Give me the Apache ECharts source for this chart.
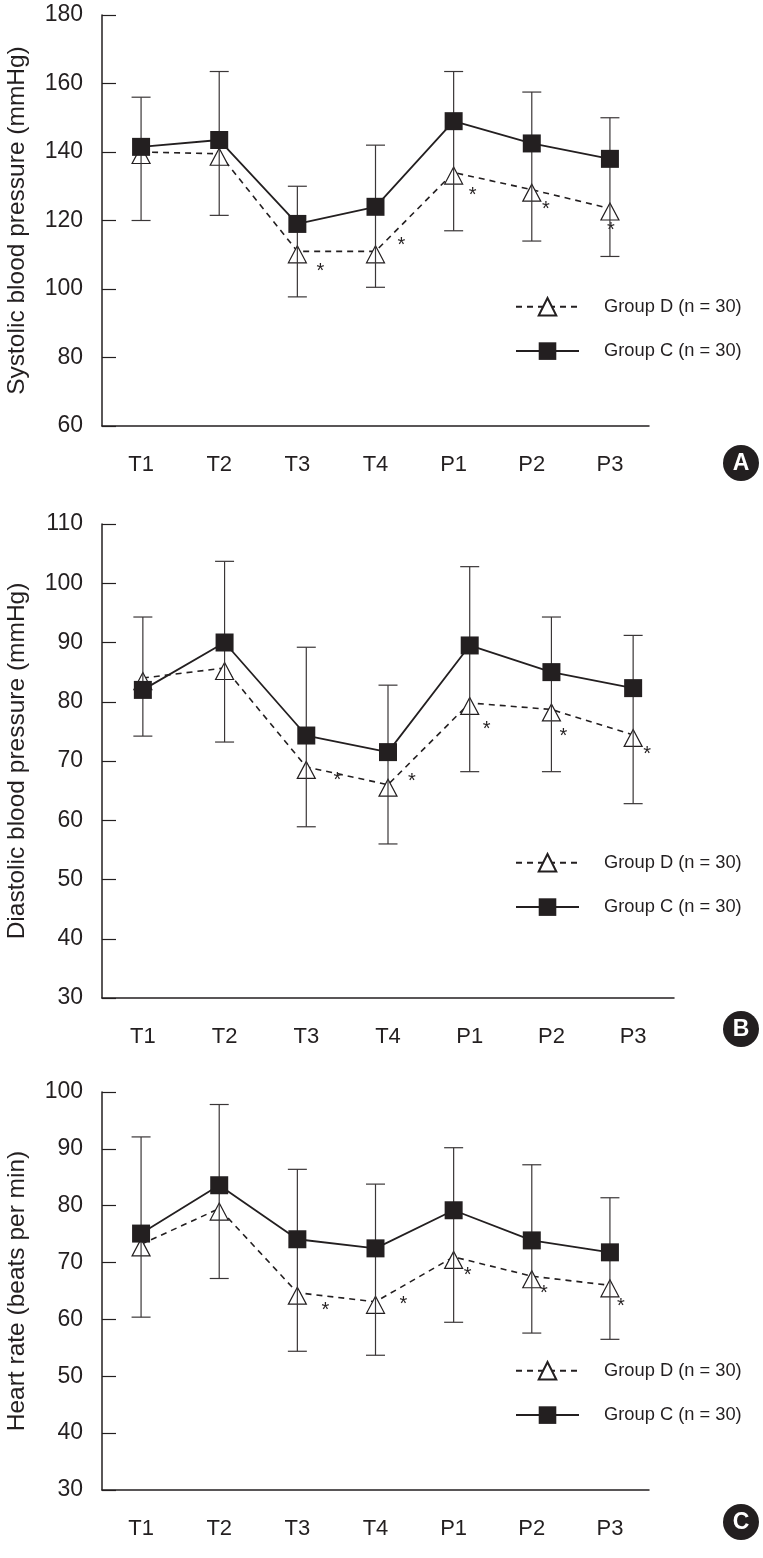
<!DOCTYPE html>
<html>
<head>
<meta charset="utf-8">
<script src="https://cdn.jsdelivr.net/npm/echarts@6/dist/echarts.min.js"></script>
<style>html,body{margin:0;padding:0;background:#fff}#c{width:763px;height:1558px}</style>
</head>
<body>
<div id="c"></div>
<script>
// ---- data ----
const categories = ['T1', 'T2', 'T3', 'T4', 'P1', 'P2', 'P3'];
const nameD = 'Group D (n = 30)';
const nameC = 'Group C (n = 30)';

// Panel A: systolic blood pressure (mmHg)
const sbpC   = [141.5, 143.5, 119, 124, 149, 142.5, 138];
const sbpCSD = [14.5, 20, 11, 18, 14.5, 15, 12];
const sbpD   = [140, 139.5, 111, 111, 134, 129, 123.5];
const sbpDSD = [20, 18, 13.3, 10.5, 17, 15, 14];

// Panel B: diastolic blood pressure (mmHg)
const dbpC   = [82, 90, 74.3, 71.5, 89.5, 85, 82.3];
const dbpCSD = [12.3, 13.7, 14.9, 11.3, 13.3, 9.3, 8.9];
const dbpD   = [84, 85.7, 69, 66, 79.8, 78.7, 74.4];
const dbpDSD = [9.8, 12.5, 10.1, 10, 11.6, 10.5, 11.6];

// Panel C: heart rate (beats per min)
const hrC   = [75.1, 83.6, 74.1, 72.5, 79.2, 73.9, 71.8];
const hrCSD = [17, 14.2, 12.3, 11.3, 11, 13.3, 9.6];
const hrD   = [73.2, 79.5, 64.7, 63.1, 71, 67.6, 66];
const hrDSD = [12.8, 12.3, 10.3, 9.4, 11.5, 10, 9.5];

// significance vs group C (asterisk)
const sigD = [false, false, true, true, true, true, true];

// ---- styling ----
const FONT = "'Liberation Sans', Arial, Helvetica, sans-serif";
const INK = '#231f20';
const starOffsets = [
  [[0,0],[0,0],[23,15],[26,-11],[19,18],[14,15],[1,17]],
  [[0,0],[0,0],[31,9],[24,-8],[17,22],[12,22],[14,15]],
  [[0,0],[0,0],[28,13],[28,-2],[14,14],[12,12],[11,16]]
];
const panels = [
  {title: 'Systolic blood pressure (mmHg)', C: sbpC, CSD: sbpCSD, D: sbpD, DSD: sbpDSD, min: 60, max: 180, interval: 20,
   grid: {left: 102, right: 114, top: 15, height: 411}, legendTop: 292, badge: 'A', badgeY: 463},
  {title: 'Diastolic blood pressure (mmHg)', C: dbpC, CSD: dbpCSD, D: dbpD, DSD: dbpDSD, min: 30, max: 110, interval: 10,
   grid: {left: 102, right: 89, top: 524, height: 474}, legendTop: 848, badge: 'B', badgeY: 1029},
  {title: 'Heart rate (beats per min)', C: hrC, CSD: hrCSD, D: hrD, DSD: hrDSD, min: 30, max: 100, interval: 10,
   grid: {left: 102, right: 114, top: 1092, height: 398}, legendTop: 1356, badge: 'C', badgeY: 1522}
];

const chart = echarts.init(document.getElementById('c'));
const grids = [], xAxes = [], yAxes = [], series = [], legends = [], graphics = [];

panels.forEach((p, i) => {
  grids.push(Object.assign({containLabel: false, outerBoundsMode: 'none'}, p.grid));
  xAxes.push({
    type: 'category', gridIndex: i, data: categories, boundaryGap: true,
    axisLine: {lineStyle: {color: INK, width: 1.5}},
    axisTick: {inside: true, length: 13, lineStyle: {color: INK, width: 1.2}},
    axisLabel: {color: INK, fontSize: 22, fontFamily: FONT, margin: 28},
    splitLine: {show: false}
  });
  yAxes.push({
    type: 'value', gridIndex: i, min: p.min, max: p.max, interval: p.interval,
    name: p.title, nameLocation: 'middle', nameGap: 72,
    nameTextStyle: {color: INK, fontSize: 24.5, fontFamily: FONT},
    axisLine: {show: true, lineStyle: {color: INK, width: 1.5}},
    axisTick: {show: true, inside: true, length: 14, lineStyle: {color: INK, width: 1.2}},
    axisLabel: {color: INK, fontSize: 23, fontFamily: FONT, margin: 19},
    splitLine: {show: false}
  });
  // error bars: from D mean - SD (down) to C mean + SD (up)
  const errData = categories.map((c, k) => [k, p.D[k] - p.DSD[k], p.C[k] + p.CSD[k]]);
  series.push({
    type: 'custom', xAxisIndex: i, yAxisIndex: i, z: 3, silent: true,
    data: errData, encode: {x: 0, y: [1, 2]},
    renderItem: function (params, api) {
      const lo = api.coord([api.value(0), api.value(1)]);
      const hi = api.coord([api.value(0), api.value(2)]);
      const hw = 9.5;
      const st = {stroke: '#3a3637', lineWidth: 1.2};
      return {type: 'group', children: [
        {type: 'line', shape: {x1: lo[0], y1: lo[1], x2: hi[0], y2: hi[1]}, style: st},
        {type: 'line', shape: {x1: lo[0] - hw, y1: lo[1], x2: lo[0] + hw, y2: lo[1]}, style: st},
        {type: 'line', shape: {x1: hi[0] - hw, y1: hi[1], x2: hi[0] + hw, y2: hi[1]}, style: st}
      ]};
    }
  });
  series.push({
    name: nameD, type: 'line', xAxisIndex: i, yAxisIndex: i, z: 2,
    data: p.D.map((v, k) => ({
      value: v,
      label: {show: sigD[k], offset: [starOffsets[i][k][0], starOffsets[i][k][1] + 5 - 3]}
    })),
    symbol: 'triangle', symbolSize: [18, 17], symbolOffset: [0, 3], showAllSymbol: true,
    itemStyle: {color: '#fff', borderColor: INK, borderWidth: 1.2},
    lineStyle: {color: INK, width: 1.6, type: [6, 5]},
    label: {position: 'inside', formatter: '*', color: INK, fontSize: 20, fontFamily: FONT},
    animation: false
  });
  series.push({
    name: nameC, type: 'line', xAxisIndex: i, yAxisIndex: i, z: 4,
    data: p.C,
    symbol: 'rect', symbolSize: 18, showAllSymbol: true,
    itemStyle: {color: INK, borderColor: INK, borderWidth: 0},
    lineStyle: {color: INK, width: 1.8, type: 'solid'},
    animation: false
  });
  legends.push({
    orient: 'vertical', left: 510, top: p.legendTop, itemWidth: 63, itemHeight: 22, itemGap: 25.5,
    data: [nameD, nameC], selectedMode: false,
    textStyle: {color: INK, fontSize: 18.3, fontFamily: FONT, padding: [0, 0, 0, 20]}
  });
  const cy = p.badgeY;
  graphics.push({type: 'circle', shape: {cx: 741, cy: cy, r: 18}, style: {fill: INK}, z: 10});
  graphics.push({type: 'text', x: 741, y: cy + 1, z: 11,
    style: {text: p.badge, fill: '#fff', font: "bold 23px 'Liberation Sans', Arial, sans-serif", align: 'center', verticalAlign: 'middle'}});
});

chart.setOption({
  animation: false,
  backgroundColor: '#fff',
  grid: grids, xAxis: xAxes, yAxis: yAxes, series: series, legend: legends, graphic: graphics
});
</script>
</body>
</html>
